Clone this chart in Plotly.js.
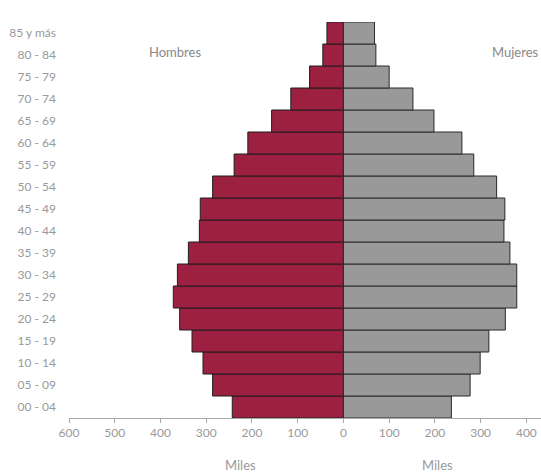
<!DOCTYPE html>
<html>
<head>
<meta charset="utf-8">
<script src="https://cdn.plot.ly/plotly-3.0.1.min.js"></script>
<style>html,body{margin:0;padding:0;background:#fff;}#chart{width:541px;height:473px;}</style>
</head>
<body>
<div id="chart"></div>
<script>
const ageGroups = ["00 - 04","05 - 09","10 - 14","15 - 19","20 - 24","25 - 29","30 - 34","35 - 39","40 - 44","45 - 49","50 - 54","55 - 59","60 - 64","65 - 69","70 - 74","75 - 79","80 - 84","85 y más"];
const hombres = [243, 286, 307, 331, 358, 372, 363, 339, 315, 313, 286, 239, 209, 157, 115, 74, 45, 36];
const mujeres = [236, 277, 299, 318, 354, 379, 379, 364, 351, 353, 335, 285, 259, 198, 152, 100, 71, 68];
const tickValues = [-600, -500, -400, -300, -200, -100, 0, 100, 200, 300, 400];
const tickLabels = ["600", "500", "400", "300", "200", "100", "0", "100", "200", "300", "400"];

const traces = [
  {
    type: 'bar', orientation: 'h', name: 'Hombres',
    y: ageGroups, x: hombres.map(v => -v),
    marker: {color: '#9c2140', line: {color: '#1e1e1e', width: 1}},
    hoverinfo: 'skip'
  },
  {
    type: 'bar', orientation: 'h', name: 'Mujeres',
    y: ageGroups, x: mujeres,
    marker: {color: '#999999', line: {color: '#2a2a2a', width: 1}},
    hoverinfo: 'skip'
  }
];

const layout = {
  width: 541, height: 473,
  margin: {l: 69, r: 0, t: 22, b: 55},
  barmode: 'relative', bargap: 0,
  showlegend: false,
  paper_bgcolor: '#fff', plot_bgcolor: '#fff',
  font: {family: 'Lato, "Open Sans", sans-serif', color: '#999', size: 12},
  xaxis: {
    range: [-600, 432], tickvals: tickValues, ticktext: tickLabels,
    showgrid: false, zeroline: false, showline: true, linecolor: '#aaa', linewidth: 1,
    ticks: 'outside', ticklen: 4, tickcolor: '#aaa',
    tickfont: {size: 12, color: '#999'}, fixedrange: true
  },
  yaxis: {
    type: 'category', categoryorder: 'array', categoryarray: ageGroups,
    range: [-0.5, 17.5], showgrid: false, zeroline: false, showline: false,
    ticks: '', ticklabelstandoff: 12,
    tickfont: {size: 12, color: '#999'}, fixedrange: true
  },
  annotations: [
    {text: 'Hombres', xref: 'paper', yref: 'paper', x: 0.2246, y: 0.924, xanchor: 'center', yanchor: 'middle', showarrow: false, font: {size: 13, color: '#888'}},
    {text: 'Mujeres', xref: 'paper', yref: 'paper', x: 0.947, y: 0.924, xanchor: 'center', yanchor: 'middle', showarrow: false, font: {size: 13, color: '#888'}},
    {text: 'Miles', xref: 'paper', yref: 'paper', x: 0.364, y: -0.119, xanchor: 'center', yanchor: 'middle', showarrow: false, font: {size: 13, color: '#999'}},
    {text: 'Miles', xref: 'paper', yref: 'paper', x: 0.781, y: -0.119, xanchor: 'center', yanchor: 'middle', showarrow: false, font: {size: 13, color: '#999'}}
  ]
};

Plotly.newPlot('chart', traces, layout, {displayModeBar: false, staticPlot: true});
</script>
</body>
</html>
